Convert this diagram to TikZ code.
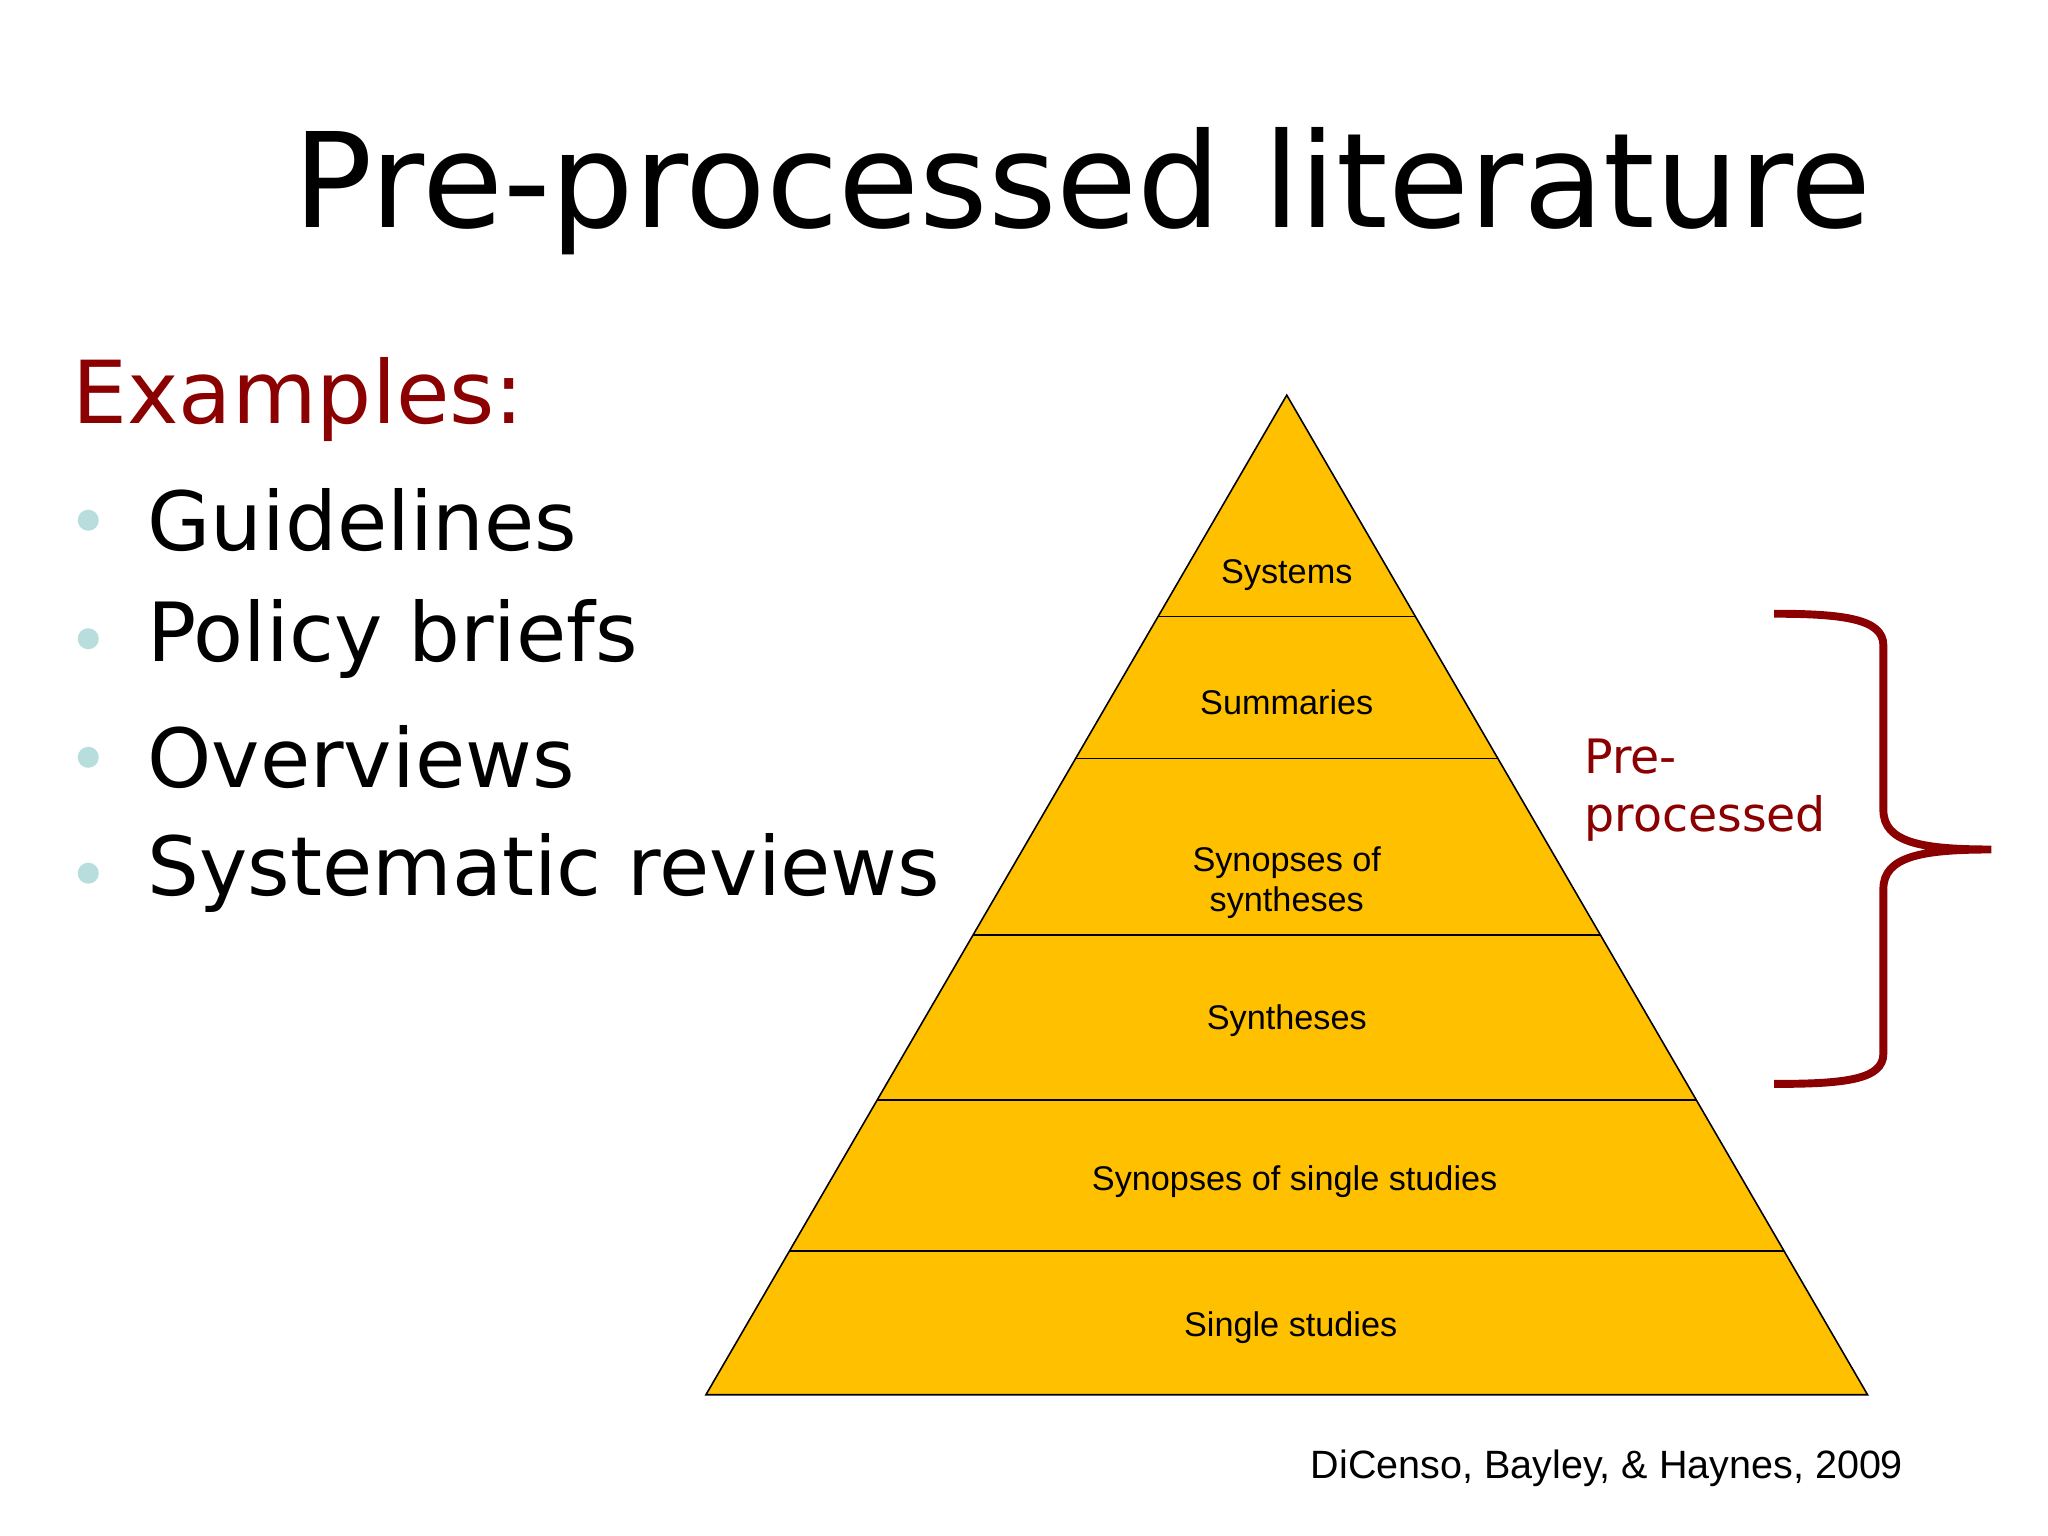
\documentclass[tikz,border=0pt]{standalone}
\usepackage{fontspec}
\setmainfont{DejaVu Sans}
\newfontfamily\arialf{Liberation Sans}
\usetikzlibrary{calc}
\definecolor{gold}{HTML}{FFC000}
\definecolor{dred}{HTML}{8B0000}
\definecolor{bul}{HTML}{B7DDDD}
\begin{document}
\begin{tikzpicture}[x=0.5pt,y=-0.5pt,
  lay/.style={font=\arialf\fontsize{13}{15}\selectfont,align=center},
  item/.style={anchor=west,font=\fontsize{31}{36}\selectfont},
  dot/.style={circle,fill=bul,inner sep=0pt,minimum size=8pt}]
\useasboundingbox (0,0) rectangle (1555,1166);
\coordinate (A) at (977,300);
\coordinate (L) at (536,1059);
\coordinate (R) at (1418,1059);
\draw[fill=gold,line width=0.6pt] (A)--(L)--(R)--cycle;
\foreach \y/\n in {468/a,576/b,710/c,835/d,950/e}{
  \pgfmathsetmacro\t{(\y-300)/759}
  \coordinate (l\n) at ($(A)!\t!(L)$);
  \coordinate (r\n) at ($(A)!\t!(R)$);
  \draw[line width=0.6pt] (l\n)--(r\n);
}
\node[lay] (s1) at (977,437) {Systems};
\node[lay] (s2) at (977,533) {Summaries};
\node[lay] (s3) at (977,670) {Synopses of\\syntheses};
\node[lay] (s4) at (977,775) {Syntheses};
\node[lay] (s5) at (983,897) {Synopses of single studies};
\node[lay] (s6) at (980,1008) {Single studies};
\node[font=\fontsize{50}{60}\selectfont] (title) at (822,145) {Pre-processed literature};
\node[anchor=west,text=dred,font=\fontsize{33}{40}\selectfont] (ex) at (48,303) {Examples:};
\foreach \y/\t/\n in {395/Guidelines/g,485/Policy briefs/p,575/Overviews/o,663/Systematic reviews/s}{
  \node[dot] (d\n) at (67,\y) {};
  \node[item] (i\n) at (105,\y) {\t};
}
\node[anchor=west,text=dred,align=left,font=\fontsize{18}{22}\selectfont] (pp) at (1196,600) {Pre-\\processed};
\draw[dred,line width=3pt] (1347,466) .. controls (1400,466) and (1430,470) .. (1430,490)
  -- (1430,615) .. controls (1430,640) and (1460,645) .. (1512,645)
  .. controls (1460,645) and (1430,650) .. (1430,675)
  -- (1430,800) .. controls (1430,820) and (1400,823) .. (1347,823);
\node[anchor=east,font=\arialf\fontsize{15}{18}\selectfont] (cite) at (1452,1115) {DiCenso, Bayley, \& Haynes, 2009};
\end{tikzpicture}
\end{document}
